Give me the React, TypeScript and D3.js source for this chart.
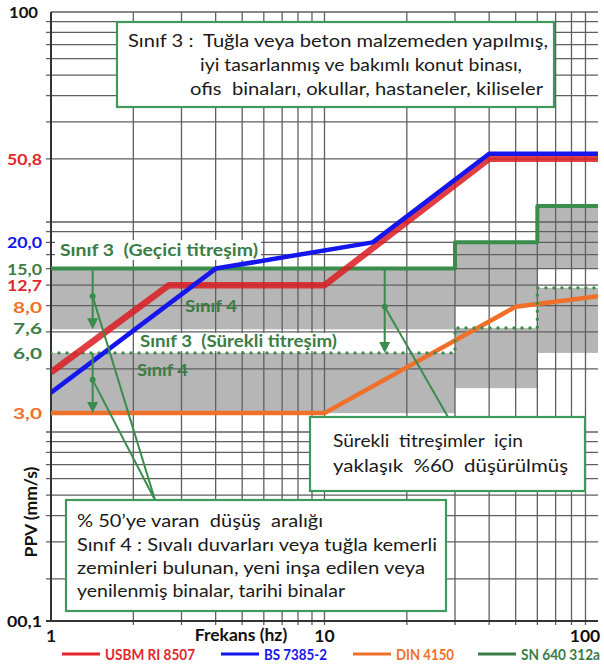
import React from "react";
import * as d3 from "d3";

const W = 604;
const H = 668;

// y labels as printed, and the value of the printed log grid they sit on
const yTickValues = [0.1, 3, 6, 7.6, 8, 12.7, 15, 20, 50.8, 100];
const yTickGridAt = [0.126, 1.23, 2.38, 3.13, 3.95, 5.0, 6.0, 8.0, 20.0, 100];
const yTickLabels = ["00,1", "3,0", "6,0", "7,6", "8,0", "12,7", "15,0", "20,0", "50,8", "100"];
const yTickKinds = ["k", "din", "sn", "sn", "din", "usbm", "sn", "bs", "usbm", "k"];

const xTickValues = [1, 10, 100];
const xTickLabels = ["1", "10", "100"];

// USBM RI 8507
const usbmFreq = [1, 2.7, 10, 40, 100];
const usbmPpv = [4.8, 12.7, 12.7, 50.8, 50.8];
// BS 7385-2
const bsFreq = [1, 4, 15, 40, 100];
const bsPpv = [3.8, 15, 20, 52, 52];
// DIN 4150
const dinFreq = [1, 10, 50, 100];
const dinPpv = [3, 3, 8, 10];
// SN 640 312a, step limits
const snFreq = [1, 30, 60, 100];
const snTransient = [15, 20, 30];
const snContinuous = [6, 7.6, 12];
// grey bands (up to 50% reduction)
const bandUpperLow = [7.5, 8, 15];
const bandLowerLow = [3, 4, 6];

// arrows showing the reduction
const arrowFreq = [1.42, 1.42, 16.6];
const arrowFrom = [15, 6, 15];
const arrowTo = [7.5, 3, 6];
const pointerPpv = [10, 4.4, 8];

const legendNames = ["USBM RI 8507", "BS 7385-2", "DIN 4150", "SN 640 312a"];
const legendKinds = ["usbm", "bs", "din", "sn"];

const colors: Record<string, string> = {
  k: "#111111",
  usbm: "#e3262d",
  bs: "#1515ee",
  din: "#f0702a",
  sn: "#3b7d46",
};

const FONT = "Lato, 'Open Sans', sans-serif";
const GREEN = "#3a8c4c";
const BOXGREEN = "#3d9a5c";

type Line = { x: number; y: number; t: string; len: number };

function TextBox({ x, y, w, h, lines }: { x: number; y: number; w: number; h: number; lines: Line[] }) {
  return (
    <g>
      <rect x={x} y={y} width={w} height={h} fill="#fff" stroke={BOXGREEN} strokeWidth={2.2} />
      {lines.map((l, i) => (
        <text key={i} x={l.x} y={l.y} fontSize={17.5} fill="#1a1a1a" xmlSpace="preserve"
          style={{ whiteSpace: "pre" }} textLength={l.len} lengthAdjust="spacingAndGlyphs">
          {l.t}
        </text>
      ))}
    </g>
  );
}

export default function App() {
  const x = d3.scaleLog().domain([1, 100]).range([51, 598]);
  const yGrid = d3.scaleLog().domain([0.1, 100]).range([642, 12]);
  const y = d3.scaleLog().domain(yTickValues).range(yTickGridAt.map((v) => yGrid(v)));

  const left = x(1), right = x(100), top = y(100), bottom = y(0.1);

  const decades = (from: number, to: number) =>
    d3.range(from, to).flatMap((e) => d3.range(1, 10).map((m) => m * Math.pow(10, e)));
  const gridY = decades(-1, 2).filter((v) => yGrid(v) < bottom - 1 && yGrid(v) > top + 1);
  const gridX = decades(0, 2).filter((v) => v > 1);

  const line = d3.line<[number, number]>().x((d) => x(d[0])).y((d) => y(d[1]));
  const step = d3.line<[number, number]>().x((d) => x(d[0])).y((d) => y(d[1])).curve(d3.curveStepAfter);

  const pts = (f: number[], v: number[]) => f.map((d, i) => [d, v[i]] as [number, number]);
  const stepPts = (levels: number[]) =>
    snFreq.map((f, i) => [f, levels[Math.min(i, levels.length - 1)]] as [number, number]);

  const pointerEnds: [number, number][] = [[155, 500], [155, 500], [448, 417]];
  const legendX = [62, 221, 353, 478];
  const legendLen = [90, 63, 58, 79];

  const label = (tx: number, ty: number, t: string, len: number) => (
    <text x={tx} y={ty} xmlSpace="preserve" style={{ whiteSpace: "pre" }}
      textLength={len} lengthAdjust="spacingAndGlyphs">{t}</text>
  );

  return (
    <svg width={W} height={H} style={{ position: "absolute", left: 0, top: 0, background: "#fff" }} fontFamily={FONT}>
      <defs>
        <clipPath id="plot">
          <rect x={left} y={top} width={right - left} height={bottom - top} />
        </clipPath>
      </defs>

      {/* grey reduction bands */}
      <g fill="#b6b6b6">
        {snTransient.map((v, i) => (
          <rect key={"u" + i} x={x(snFreq[i])} width={x(snFreq[i + 1]) - x(snFreq[i])}
            y={y(v)} height={y(bandUpperLow[i]) - y(v)} />
        ))}
        {snContinuous.map((v, i) => (
          <rect key={"l" + i} x={x(snFreq[i])} width={x(snFreq[i + 1]) - x(snFreq[i])}
            y={y(v)} height={y(bandLowerLow[i]) - y(v)} />
        ))}
      </g>

      {/* log grid */}
      <g stroke="#5f5f5f" strokeWidth={1.3}>
        {gridY.map((v) => (
          <line key={"gy" + v} x1={left - 5} x2={right} y1={yGrid(v)} y2={yGrid(v)} />
        ))}
        {gridX.map((v) => (
          <line key={"gx" + v} x1={x(v)} x2={x(v)} y1={top} y2={bottom + 4} />
        ))}
        <line x1={left} x2={right} y1={top} y2={top} />
      </g>
      <g stroke="#333" strokeWidth={2}>
        <line x1={left} x2={left} y1={top} y2={bottom} />
        <line x1={left - 5} x2={right} y1={bottom} y2={bottom} />
      </g>

      {/* label backgrounds */}
      <rect x={55} y={240} width={206} height={20} fill="#fff" />
      <rect x={137} y={333} width={203} height={18} fill="#fff" />

      <g clipPath="url(#plot)" fill="none" strokeLinejoin="round">
        <path d={line(pts(dinFreq, dinPpv)) || ""} stroke={colors.din} strokeWidth={4.5} />
        <path d={step(stepPts(snTransient)) || ""} stroke={GREEN} strokeWidth={4} />
        <path d={step(stepPts(snContinuous)) || ""} stroke={GREEN} strokeWidth={3.4}
          strokeDasharray="0 8" strokeLinecap="round" />
        <path d={line(pts(usbmFreq, usbmPpv)) || ""} stroke="#dc1c22" strokeOpacity={0.85} strokeWidth={6.5} />
        <path d={line(pts(bsFreq, bsPpv)) || ""} stroke={colors.bs} strokeWidth={4.5} />
      </g>

      {/* reduction arrows and pointers */}
      <g stroke={GREEN} fill={GREEN}>
        {arrowFreq.map((f, i) => {
          const ax = x(f), y0 = y(arrowFrom[i]), y1 = y(arrowTo[i]);
          return (
            <g key={"a" + i}>
              <line x1={ax} x2={ax} y1={y0} y2={y1 - 8} strokeWidth={2} />
              <path d={`M${ax - 5.5},${y1 - 11}L${ax + 5.5},${y1 - 11}L${ax},${y1}Z`} stroke="none" />
              <circle cx={ax} cy={y(pointerPpv[i])} r={3} stroke="none" />
              <line x1={ax} y1={y(pointerPpv[i])} x2={pointerEnds[i][0]} y2={pointerEnds[i][1]} strokeWidth={2} />
            </g>
          );
        })}
      </g>

      {/* in-plot labels */}
      <g fill={colors.sn} fontWeight="bold" fontSize={17}>
        {label(60, 256, "Sınıf 3  (Geçici titreşim)", 198)}
        {label(185, 312, "Sınıf 4", 52)}
        {label(140, 347, "Sınıf 3  (Sürekli titreşim)", 197)}
        {label(137, 376, "Sınıf 4", 51)}
      </g>

      <TextBox x={117} y={22} w={437} h={85} lines={[
        { x: 128, y: 47, t: "Sınıf 3 :  Tuğla veya beton malzemeden yapılmış,", len: 420 },
        { x: 200, y: 71, t: "iyi tasarlanmış ve bakımlı konut binası,", len: 322 },
        { x: 190, y: 95, t: "ofis  binaları, okullar, hastaneler, kiliseler", len: 353 },
      ]} />
      <TextBox x={310} y={417} w={275} h={74} lines={[
        { x: 333, y: 447, t: "Sürekli  titreşimler  için", len: 190 },
        { x: 333, y: 472, t: "yaklaşık  %60  düşürülmüş", len: 235 },
      ]} />
      <TextBox x={66} y={500} w={380} h={111} lines={[
        { x: 77, y: 527, t: "% 50’ye varan  düşüş  aralığı", len: 246 },
        { x: 77, y: 551, t: "Sınıf 4 : Sıvalı duvarları veya tuğla kemerli", len: 360 },
        { x: 77, y: 574, t: "zeminleri bulunan, yeni inşa edilen veya", len: 348 },
        { x: 77, y: 597, t: "yenilenmiş binalar, tarihi binalar", len: 268 },
      ]} />

      {/* y tick labels */}
      <g fontWeight="bold" fontSize={15.5} textAnchor="end" dominantBaseline="central">
        {yTickValues.map((v, i) => (
          <text key={"yt" + i} x={v === 100 ? 38 : 42} y={y(v)} fill={colors[yTickKinds[i]]}
            textLength={yTickLabels[i].length === 4 ? 35 : 29} lengthAdjust="spacingAndGlyphs">{yTickLabels[i]}</text>
        ))}
      </g>
      {/* x tick labels */}
      <g fontWeight="bold" fontSize={17.5} fill="#111" dominantBaseline="central">
        {xTickValues.map((v, i) => (
          <text key={"xt" + i} x={i === 2 ? x(v) - 13 : x(v)} y={635} textAnchor="middle">{xTickLabels[i]}</text>
        ))}
        <text x={241} y={634} textAnchor="middle">Frekans (hz)</text>
        <text transform="translate(30,512) rotate(-90)" textAnchor="middle">PPV (mm/s)</text>
      </g>

      {/* legend */}
      <g fontWeight="bold" fontSize={14.5}>
        {legendNames.map((n, i) => (
          <g key={n}>
            <line x1={legendX[i]} x2={legendX[i] + 38} y1={654} y2={654} stroke={colors[legendKinds[i]]} strokeWidth={3} />
            <text x={legendX[i] + 43} y={654} dominantBaseline="central" fill={colors[legendKinds[i]]}
              textLength={legendLen[i]} lengthAdjust="spacingAndGlyphs">{n}</text>
          </g>
        ))}
      </g>
    </svg>
  );
}
